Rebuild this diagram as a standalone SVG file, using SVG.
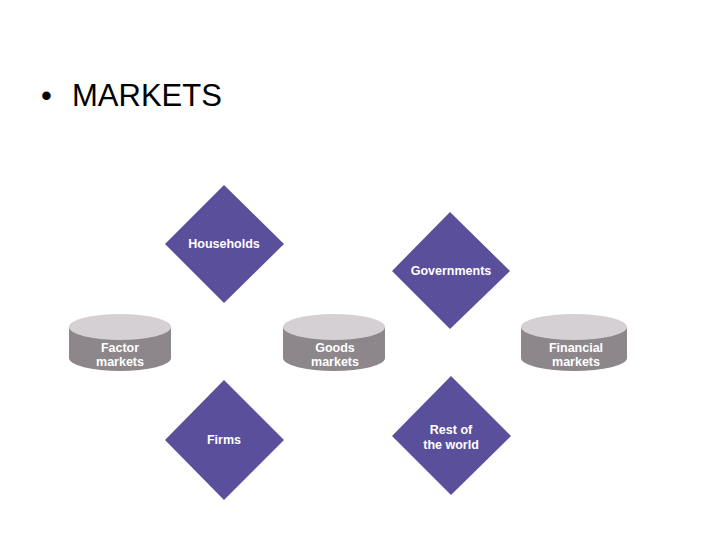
<svg xmlns="http://www.w3.org/2000/svg" width="720" height="540" viewBox="0 0 720 540">
<style>
.d{fill:#5a4f9b}
.top{fill:#d4d0d4}
.side{fill:#8d878b}
.t{font-family:"Liberation Sans",Arial,sans-serif;font-weight:bold;font-size:12.5px;fill:#ffffff;text-anchor:middle}
.title{font-family:"Liberation Sans",Arial,sans-serif;font-size:31px;fill:#000}
</style>
<rect width="720" height="540" fill="#ffffff"/>
<text class="title" x="41" y="106">•</text>
<text class="title" x="72" y="106">MARKETS</text>
<g id="households">
<polygon class="d" points="224,185 284,244 224,303 165,244"/>
<text class="t" x="224" y="248">Households</text>
</g>
<g id="governments">
<polygon class="d" points="450,212 510,271 450,329 392,271"/>
<text class="t" x="451" y="275">Governments</text>
</g>
<g id="firms">
<polygon class="d" points="224,380 284,440 224,500 165,440"/>
<text class="t" x="224" y="444">Firms</text>
</g>
<g id="rest">
<polygon class="d" points="451,376 511,436 451,495 392,436"/>
<text class="t" x="451" y="434">Rest of</text>
<text class="t" x="451" y="449">the world</text>
</g>
<g id="factor">
<path class="side" d="M69,327 V358 A51,13 0 0 0 171,358 V327 Z"/>
<ellipse class="top" cx="120" cy="327" rx="51" ry="13"/>
<text class="t" x="120" y="352">Factor</text>
<text class="t" x="120" y="366">markets</text>
</g>
<g id="goods">
<path class="side" d="M283,327 V358 A51,13 0 0 0 385,358 V327 Z"/>
<ellipse class="top" cx="334" cy="327" rx="51" ry="13"/>
<text class="t" x="335" y="352">Goods</text>
<text class="t" x="335" y="366">markets</text>
</g>
<g id="financial">
<path class="side" d="M521,327 V358 A53,13 0 0 0 627,358 V327 Z"/>
<ellipse class="top" cx="574" cy="327" rx="53" ry="13"/>
<text class="t" x="576" y="352">Financial</text>
<text class="t" x="576" y="366">markets</text>
</g>
<g id="connectors"></g>
</svg>
